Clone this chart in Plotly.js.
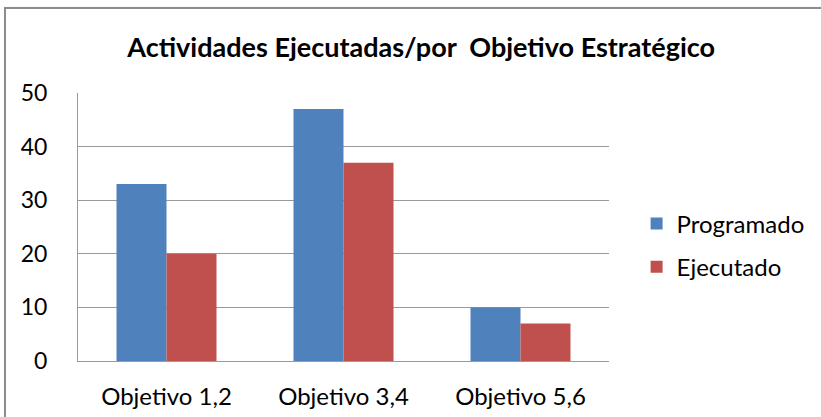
<!DOCTYPE html>
<html>
<head>
<meta charset="utf-8">
<script src="https://cdn.plot.ly/plotly-3.0.1.min.js"></script>
<style>
  body { margin: 0; background: #fff; overflow: hidden; }
  #frame { position: absolute; left: 4px; top: 7px; width: 900px; height: 500px;
           border: 2px solid #8c8c8c; box-shadow: 1px 1px 2px #bbb; }
  #chart { position: absolute; left: 0; top: 0; }
</style>
</head>
<body>
<div id="frame"></div>
<div id="chart"></div>
<script>
"use strict"

let categories = ['Objetivo 1,2', 'Objetivo 3,4', 'Objetivo 5,6'];
let programado = [33, 47, 10];
let ejecutado = [20, 37, 7];
let yTicks = [0, 10, 20, 30, 40, 50];

let font = 'Lato, "Open Sans", sans-serif';

let dataList = [
	{
		x: categories,
		y: programado,
		name: 'Programado',
		legendgroup: 'prog',
		type: 'bar',
		marker: {color: '#4f81bd'}
	},
	{
		x: categories,
		y: ejecutado,
		name: 'Ejecutado',
		legendgroup: 'ejec',
		type: 'bar',
		marker: {color: '#c0504d'}
	}
];

let layout = {
	width: 821,
	height: 417,
	margin: {l: 78, r: 211, t: 93, b: 56, pad: 0},
	paper_bgcolor: 'rgba(0,0,0,0)',
	plot_bgcolor: 'rgba(0,0,0,0)',
	font: {family: font, size: 24, color: '#000'},
	title: {
		text: '<b>Actividades Ejecutadas/por  Objetivo Estratégico</b>',
		font: {family: font, size: 27, color: '#000'},
		x: 0.513,
		xanchor: 'center',
		y: 0.885,
		yanchor: 'middle'
	},
	barmode: 'group',
	bargap: 0.435,
	bargroupgap: 0,
	xaxis: {
		showline: true,
		linecolor: '#9a9a9a',
		linewidth: 1,
		showgrid: false,
		ticks: '',
		tickfont: {family: font, size: 24},
		ticklabelstandoff: 14
	},
	yaxis: {
		range: [0, 50],
		tickvals: yTicks,
		showline: true,
		linecolor: '#9a9a9a',
		linewidth: 1,
		showgrid: true,
		gridcolor: '#9a9a9a',
		gridwidth: 1,
		zeroline: false,
		ticks: '',
		tickfont: {family: font, size: 23},
		ticklabelstandoff: 25
	},
	showlegend: true,
	legend: {
		x: 1.05,
		xanchor: 'left',
		y: 0.431,
		yanchor: 'middle',
		font: {family: font, size: 24},
		tracegroupgap: 9,
		itemwidth: 30
	}
};

Plotly.newPlot('chart', dataList, layout, {displayModeBar: false, staticPlot: true});
</script>
</body>
</html>
